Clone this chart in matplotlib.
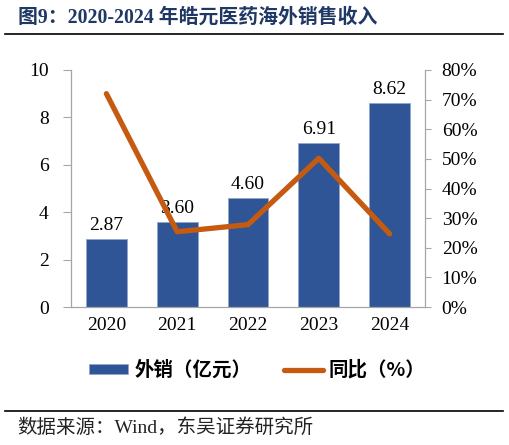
import matplotlib
matplotlib.use("Agg")
import matplotlib.pyplot as plt
from matplotlib.patches import Patch
from matplotlib.lines import Line2D

# Data
years = ["2020", "2021", "2022", "2023", "2024"]
sales = [2.87, 3.60, 4.60, 6.91, 8.62]          # 外销（亿元）
growth = [72.0, 25.4, 27.8, 50.2, 24.7]         # 同比（%）

fonts = ["Liberation Serif", "Noto Sans CJK SC", "DejaVu Sans"]
plt.rcParams["font.family"] = fonts

bar_color = "#2F5597"
line_color = "#C55A11"
axis_color = "#A6A6A6"

fig = plt.figure(figsize=(5.09, 4.45), dpi=100)
ax = fig.add_axes([71 / 509, 1 - 307 / 445, (425 - 71) / 509, (307 - 70) / 445])

x = range(len(years))
bars = ax.bar(x, sales, width=0.575, color=bar_color, edgecolor="#8FA6CC", linewidth=0.6, zorder=2)
for xi, v in zip(x, sales):
    ax.text(xi, v + 0.2, f"{v:.2f}", ha="center", va="bottom", fontsize=14, zorder=3)

ax.set_xlim(-0.5, len(years) - 0.5)
ax.set_ylim(0, 10)
ax.set_yticks(range(0, 11, 2))
ax.set_xticks(list(x))
ax.set_xticklabels(years)
ax.tick_params(axis="x", length=0, pad=7, labelsize=14)
ax.tick_params(axis="y", length=6, width=0.8, color=axis_color, pad=10, labelsize=14)
for s in ["top", "right"]:
    ax.spines[s].set_visible(False)
for s in ["left", "bottom"]:
    ax.spines[s].set_color(axis_color)
    ax.spines[s].set_linewidth(0.9)

ax2 = ax.twinx()
ax2.plot(list(x), growth, color=line_color, linewidth=3.8, solid_capstyle="round", zorder=4)
ax2.set_ylim(0, 80)
ax2.set_yticks(range(0, 81, 10))
ax2.set_yticklabels([f"{t}%" for t in range(0, 81, 10)])
ax2.tick_params(axis="y", length=4, width=0.8, color=axis_color, pad=8, labelsize=14)
for s in ["top", "left", "bottom"]:
    ax2.spines[s].set_visible(False)
ax2.spines["right"].set_color(axis_color)
ax2.spines["right"].set_linewidth(0.9)

# Title and rules
fig.text(18 / 509, 1 - 18 / 445, "图9：2020-2024 年皓元医药海外销售收入", fontsize=14.3, fontweight="bold",
         color="#1F3864", ha="left", va="center", family=["Liberation Serif", "Noto Sans CJK SC"])
fig.add_artist(Line2D([5 / 509, 503 / 509], [1 - 34 / 445] * 2, color="black", linewidth=1.2))
fig.add_artist(Line2D([5 / 509, 503 / 509], [1 - 411 / 445] * 2, color="black", linewidth=1.2))

# Legend
handles = [Patch(facecolor=bar_color, edgecolor="#8FA6CC", linewidth=0.5),
           Line2D([0], [0], color=line_color, linewidth=3.8, solid_capstyle="round")]
fig.legend(handles, ["外销（亿元）", "同比（%）"], loc="center", bbox_to_anchor=(0.506, 1 - 370 / 445),
           ncol=2, frameon=False, handlelength=2.0, handleheight=0.45,
           columnspacing=1.7, handletextpad=0.3,
           prop={"family": ["Noto Sans CJK SC"], "weight": "bold", "size": 14})

fig.text(17 / 509, 1 - 428 / 445, "数据来源：Wind，东吴证券研究所", fontsize=14, ha="left", va="center",
         color="#222222")

fig.savefig("out.png", dpi=100)
